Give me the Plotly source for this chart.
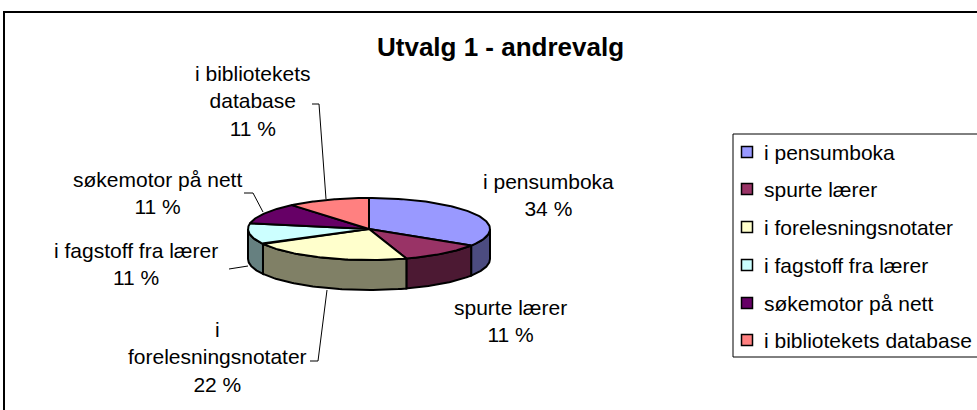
import numpy as np
import plotly.graph_objects as go

# ---- data ----
categories = ["i pensumboka", "spurte lærer", "i forelesningsnotater",
              "i fagstoff fra lærer", "søkemotor på nett", "i bibliotekets database"]
percent = [34, 11, 22, 11, 11, 11]
label_text = ["i pensumboka<br>34 %", "spurte lærer<br>11 %",
              "i<br>forelesningsnotater<br>22 %", "i fagstoff fra lærer<br>11 %",
              "søkemotor på nett<br>11 %", "i bibliotekets<br>database<br>11 %"]
top_colors = ["#9999FF", "#993366", "#FFFFCC", "#CCFFFF", "#660066", "#FF8080"]
side_colors = ["#4C4C80", "#4C1933", "#808066", "#668080", "#330033", "#804040"]
title = "Utvalg 1 - andrevalg"

# ---- layout constants (pixel space of the page) ----
W, H = 977, 410
CX, CY, RX, RY, DEPTH = 369, 229, 121, 31, 30
FONT = "Arial, Liberation Sans, sans-serif"

def pt(t):
    return CX + RX * np.cos(np.radians(t)), CY - RY * np.sin(np.radians(t))

fig = go.Figure()
total = sum(percent)
cum = np.concatenate([[0], np.cumsum(percent)])
starts = 90 - 360 * cum[:-1] / total
ends = 90 - 360 * cum[1:] / total

# sides (front half only)
for i in range(len(percent)):
    hi = min(starts[i], 0)
    lo = max(ends[i], -180)
    if lo < hi:
        t = np.linspace(hi, lo, 60)
        xs, ys = pt(t)
        xb, yb = pt(t[::-1])
        X = np.concatenate([xs, xb])
        Y = np.concatenate([ys, yb + DEPTH])
        fig.add_trace(go.Scatter(x=np.append(X, X[0]), y=np.append(Y, Y[0]), mode="lines",
                                 fill="toself", fillcolor=side_colors[i],
                                 line=dict(color="black", width=2),
                                 hoverinfo="skip", showlegend=False))

# tops
for i in range(len(percent)):
    t = np.linspace(starts[i], ends[i], 80)
    xs, ys = pt(t)
    X = np.concatenate([[CX], xs, [CX]])
    Y = np.concatenate([[CY], ys, [CY]])
    fig.add_trace(go.Scatter(x=X, y=Y, mode="lines", fill="toself",
                             fillcolor=top_colors[i], line=dict(color="black", width=2),
                             hoverinfo="skip", showlegend=False))

# data labels
label_pos = [(548, 195), (510, 321), (217, 357), (136, 264), (157, 193), (253, 101)]
for txt, (x, y) in zip(label_text, label_pos):
    fig.add_annotation(x=x, y=y, text=txt, showarrow=False, xanchor="center", yanchor="middle",
                       font=dict(family=FONT, size=21, color="black"))

# leader lines
leaders = [
    [(312, 104), (319, 104), (326, 199)],
    [(244, 193), (253, 193), (263, 212)],
    [(229, 269), (248, 266)],
    [(310, 361), (318, 361), (327, 290)],
]
for pts in leaders:
    path = "M " + " L ".join(f"{x},{y}" for x, y in pts)
    fig.add_shape(type="path", path=path, line=dict(color="black", width=1), layer="above")

# legend
leg_y = [152, 189, 227, 265, 303, 340]
fig.add_shape(type="rect", x0=733, y0=134, x1=990, y1=357,
              line=dict(color="black", width=1), layer="below")
fig.add_trace(go.Scatter(x=[747] * len(categories), y=leg_y, mode="markers",
                         marker=dict(symbol="square", size=11, color=top_colors,
                                     line=dict(color="black", width=1.5)),
                         hoverinfo="skip", showlegend=False))
for name, y in zip(categories, leg_y):
    fig.add_annotation(x=762, y=y, text=name, showarrow=False, xanchor="left", yanchor="middle",
                       font=dict(family=FONT, size=21, color="black"))

# title
fig.add_annotation(x=500, y=47, text=f"<b>{title}</b>", showarrow=False,
                   xanchor="center", yanchor="middle", font=dict(family=FONT, size=26, color="black"))

# chart border
fig.add_shape(type="path", path="M 4,420 L 4,12 L 990,12", line=dict(color="black", width=2))

fig.update_layout(
    width=W, height=H, margin=dict(l=0, r=0, t=0, b=0),
    paper_bgcolor="white", plot_bgcolor="white",
    xaxis=dict(range=[0, W], visible=False, fixedrange=True),
    yaxis=dict(range=[H, 0], visible=False, fixedrange=True),
)
fig.write_html("out.html", config={"displayModeBar": False},
               post_script="document.body.style.margin='0px';document.body.style.overflow='hidden';")
